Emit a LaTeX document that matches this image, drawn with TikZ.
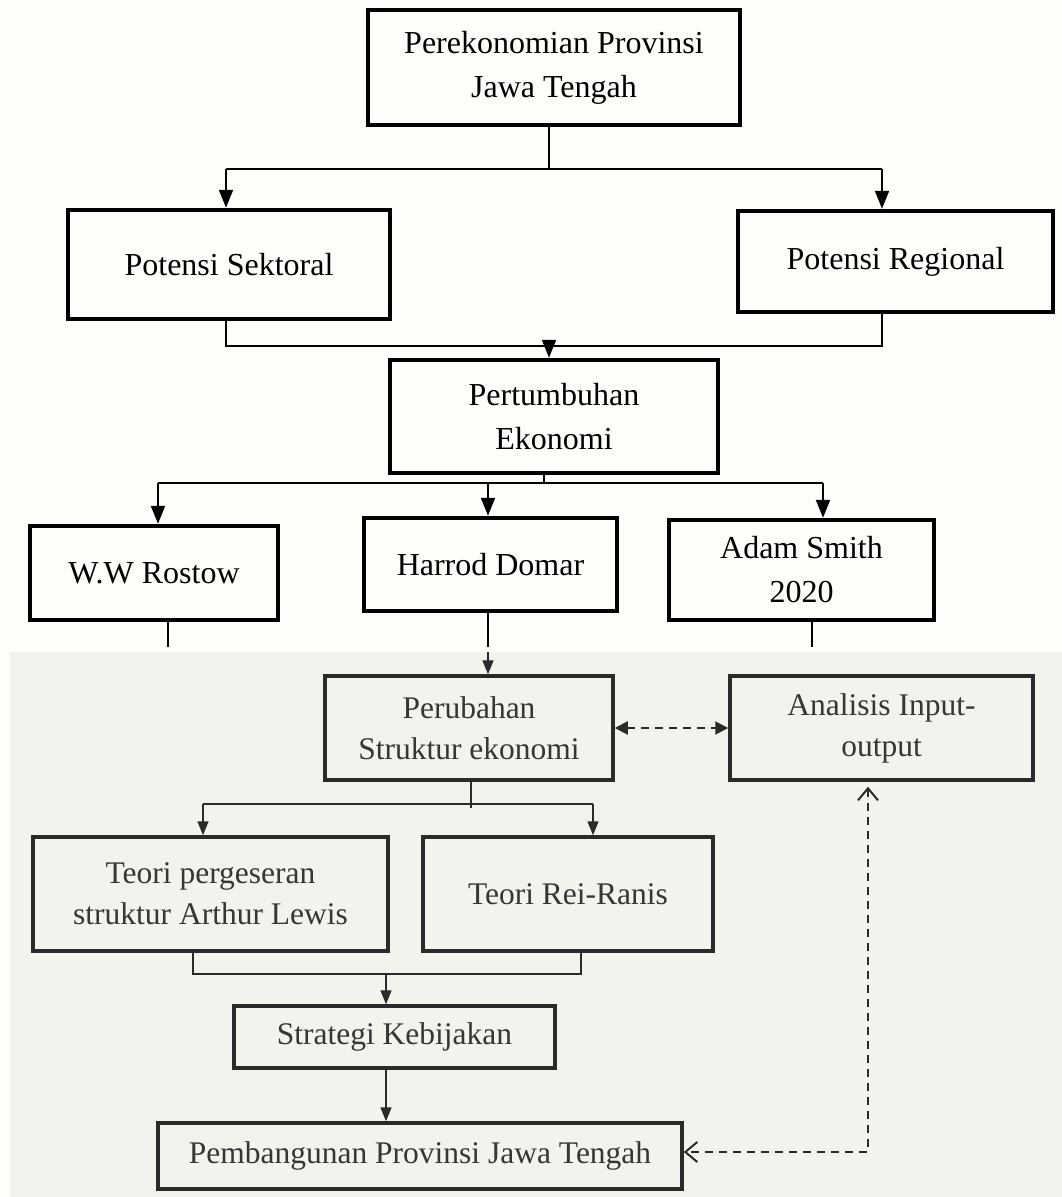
\documentclass[tikz,border=0pt]{standalone}
\usepackage{fontspec}
\setmainfont{Liberation Serif}
\usetikzlibrary{arrows.meta,calc}
\definecolor{bgtop}{HTML}{FDFDF9}
\definecolor{bglow}{HTML}{F4F2ED}
\definecolor{lowink}{HTML}{2A2A2A}
\definecolor{lowtext}{HTML}{363636}
\tikzset{
  ubox/.style={draw=black, line width=4.5pt, rectangle, inner sep=0pt, align=center,
    font=\fontsize{32}{44}\selectfont, text=black},
  lbox/.style={draw=lowink, line width=3.5pt, rectangle, inner sep=0pt, align=center,
    font=\fontsize{31.5}{41}\selectfont, text=lowtext},
  uline/.style={draw=black, line width=2pt},
  uarrow/.style={uline, -{Triangle[length=18pt,width=14pt]}},
  lline/.style={draw=lowink, line width=1.6pt},
  larrow/.style={lline, -{Triangle[length=14pt,width=11pt]}},
  dline/.style={draw=lowink, line width=2pt, dash pattern=on 8pt off 6pt},
}
\begin{document}
\begin{tikzpicture}[x=1pt,y=-1pt]
\useasboundingbox (0,0) rectangle (1062,1197);
\fill[bgtop] (0,0) rectangle (1062,1197);
\fill[bglow] (10,652) rectangle (1062,1197);

% upper boxes
\node[ubox, minimum width=372pt, minimum height=115pt] (T) at (554,67.5) {Perekonomian Provinsi\\Jawa Tengah};
\node[ubox, minimum width=322pt, minimum height=109pt] (S) at (229,264.5) {Potensi Sektoral};
\node[ubox, minimum width=315pt, minimum height=101pt] (R) at (895.5,261.5) {Potensi Regional};
\node[ubox, minimum width=328pt, minimum height=113pt] (P) at (554,416.5) {Pertumbuhan\\Ekonomi};
\node[ubox, minimum width=248pt, minimum height=94pt] (W) at (154,573) {W.W Rostow};
\node[ubox, minimum width=253pt, minimum height=93pt] (H) at (490.5,564.5) {Harrod Domar};
\node[ubox, minimum width=265pt, minimum height=100pt] (A) at (801.5,570) {Adam Smith\\2020};

% lower boxes
\node[lbox, minimum width=288pt, minimum height=104pt] (PS) at (469,728) {Perubahan\\Struktur ekonomi};
\node[lbox, minimum width=303pt, minimum height=104pt] (AI) at (881.5,728) {Analisis Input-\\output};
\node[lbox, minimum width=355pt, minimum height=114pt] (TP) at (210.5,894) {Teori pergeseran\\struktur Arthur Lewis};
\node[lbox, minimum width=290pt, minimum height=114pt] (RR) at (568,894) {Teori Rei-Ranis};
\node[lbox, minimum width=321pt, minimum height=62pt] (SK) at (394.5,1037) {Strategi Kebijakan};
\node[lbox, minimum width=524pt, minimum height=66pt] (PB) at (420,1156) {Pembangunan Provinsi Jawa Tengah};

% split from top
\coordinate (s1) at (549,169);
\coordinate (sL) at (226,169);
\coordinate (sR) at (882,169);
\draw[uline] (T.south -| s1) -- (s1);
\draw[uline] (sL) -- (sR);
\draw[uarrow] (sL) -- (sL |- S.north);
\draw[uarrow] (sR) -- (sR |- R.north);

% join to Pertumbuhan
\coordinate (j1) at (549,346);
\coordinate (jL) at (226,346);
\coordinate (jR) at (882,346);
\draw[uline] (jL |- S.south) -- (jL) -- (jR) -- (jR |- R.south);
\draw[uarrow] (j1) -- (j1 |- P.north);

% split to theories
\coordinate (k1) at (544,483);
\coordinate (kL) at (158,483);
\coordinate (kM) at (488,483);
\coordinate (kR) at (823,483);
\draw[uline] (P.south -| k1) -- (k1);
\draw[uline] (kL) -- (kR);
\draw[uarrow] (kL) -- (kL |- W.north);
\draw[uarrow] (kM) -- (kM |- H.north);
\draw[uarrow] (kR) -- (kR |- A.north);

% stubs below theory boxes
\coordinate (wE) at (168,647);
\coordinate (hE) at (488,647);
\coordinate (aE) at (812,647);
\draw[uline] (wE |- W.south) -- (wE);
\draw[uline] (hE |- H.south) -- (hE);
\draw[uline] (aE |- A.south) -- (aE);
\coordinate (hS) at (488,652);
\draw[larrow] (hS) -- (hS |- PS.north);

% Perubahan <-> Analisis
\draw[dline, {Triangle[length=13pt,width=13pt]}-{Triangle[length=13pt,width=13pt]}] (PS.east) -- (AI.west);

% split from Perubahan
\coordinate (m1) at (471,804);
\coordinate (mL) at (203,804);
\coordinate (mR) at (593,804);
\draw[lline] (PS.south -| m1) -- ($(m1)+(0,4)$);
\draw[lline] (mL) -- (mR);
\draw[larrow] (mL) -- (mL |- TP.north);
\draw[larrow] (mR) -- (mR |- RR.north);

% join to Strategi
\coordinate (n1) at (386,974);
\coordinate (nL) at (193,974);
\coordinate (nR) at (581,974);
\draw[lline] (nL |- TP.south) -- (nL) -- (nR) -- (nR |- RR.south);
\draw[larrow] (n1) -- (n1 |- SK.north);
\draw[larrow] (SK.south -| n1) -- (n1 |- PB.north);

% dashed feedback
\coordinate (dC) at (868,1152);
\draw[dline, {Straight Barb[length=12pt,width=20pt,line width=2pt]}-{Straight Barb[length=12pt,width=20pt,line width=2pt]},
  shorten <=5pt]
  (AI.south -| dC) -- (dC) -- (dC -| PB.east);
\end{tikzpicture}
\end{document}
